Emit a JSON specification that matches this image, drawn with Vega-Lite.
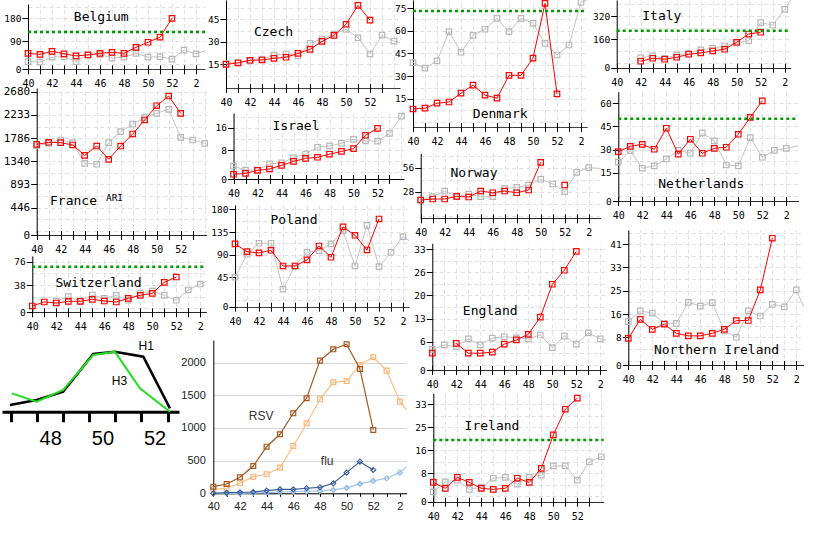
{
  "$schema": "https://vega.github.io/schema/vega-lite/v6.json",
  "width": 840,
  "height": 560,
  "autosize": "none",
  "padding": 0,
  "background": "white",
  "resolve": {"scale": {"x": "independent", "y": "independent"}, "axis": {"x": "independent", "y": "independent"}},
  "layer": [
    {
      "data": {"values": [
        {"w":40,"v":41,"s":"c"},{"w":41,"v":37,"s":"c"},{"w":42,"v":49,"s":"c"},{"w":43,"v":39,"s":"c"},{"w":44,"v":31,"s":"c"},{"w":45,"v":35,"s":"c"},{"w":46,"v":41,"s":"c"},{"w":47,"v":45,"s":"c"},{"w":48,"v":41,"s":"c"},{"w":49,"v":65,"s":"c"},{"w":50,"v":85,"s":"c"},{"w":51,"v":105,"s":"c"},{"w":52,"v":180,"s":"c"},
        {"w":40,"v":8,"s":"p"},{"w":41,"v":6,"s":"p"},{"w":42,"v":26,"s":"p"},{"w":43,"v":28,"s":"p"},{"w":44,"v":8,"s":"p"},{"w":45,"v":35,"s":"p"},{"w":46,"v":37,"s":"p"},{"w":47,"v":22,"s":"p"},{"w":48,"v":26,"s":"p"},{"w":49,"v":41,"s":"p"},{"w":50,"v":26,"s":"p"},{"w":51,"v":28,"s":"p"},{"w":52,"v":18,"s":"p"},{"w":53,"v":54,"s":"p"},{"w":54,"v":39,"s":"p"},{"w":55,"v":52,"s":"p"},
        {"w":40,"v":126,"s":"t"},{"w":55,"v":126,"s":"t"}
      ]},
      "resolve": {"axis": {"x": "independent"}},
      "layer": [
        {"transform": [{"filter": "datum.s == 'p'"}],
         "mark": {"type": "line", "color": "#c4c4c4", "strokeWidth": 1},
         "encoding": {
           "x": {"field": "w", "type": "quantitative", "scale": {"domain": [40, 54.75], "range": [28, 205], "nice": false, "zero": false, "clamp": true},
                 "axis": {"orient": "bottom", "offset": -495.2, "title": null, "values": [40,41,42,43,44,45,46,47,48,49,50,51,52,53,54], "labelExpr": "datum.value % 2 == 0 ? '' + (datum.value > 52 ? datum.value - 52 : datum.value) : ''", "domain": false, "grid": false, "tickSize": 9, "labelPadding": 5, "labelFontSize": 10, "labelOverlap": false, "labelFlush": false}},
           "y": {"field": "v", "type": "quantitative", "scale": {"domain": [-22.2, 236.7], "range": [69.3, 4], "nice": false, "zero": false, "clamp": true},
                 "axis": {"orient": "left", "offset": -28, "title": null, "grid": true, "labelOverlap": false, "values": [-22.2, 0, 45, 90, 135, 180, 225],
                          "labelExpr": "datum.value == -22.2 ? '0' : indexof([90, 180], datum.value) >= 0 ? datum.label : ''",
                          "tickOpacity": {"condition": {"test": "indexof([-22.2, 90, 180], datum.value) >= 0", "value": 1}, "value": 0},
                          "gridColor": {"condition": {"test": "datum.value == -22.2", "value": "#000000"}, "value": "#e0e0e0"},
                          "gridDash": {"condition": {"test": "datum.value == -22.2", "value": [1, 0]}, "value": [4, 3]}}}}},
        {"transform": [{"filter": "datum.s == 'p' && datum.w < 55"}],
         "mark": {"type": "point", "shape": "square", "filled": false, "color": "#b8b8b8", "size": 30, "strokeWidth": 1.2, "opacity": 1},
         "encoding": {
           "x": {"field": "w", "type": "quantitative",
                 "axis": {"orient": "top", "offset": 0, "title": "Belgium", "titleX": 100.7, "titleY": 16.7, "values": [40,41,42,43,44,45,46,47,48,49,50,51,52,53,54], "grid": true, "ticks": false, "labels": false, "domain": false}},
           "y": {"field": "v", "type": "quantitative"}}},
        {"transform": [{"filter": "datum.s == 'c'"}],
         "mark": {"type": "line", "color": "#ff0000", "strokeWidth": 1},
         "encoding": {"x": {"field": "w", "type": "quantitative", "axis": null}, "y": {"field": "v", "type": "quantitative"}}},
        {"transform": [{"filter": "datum.s == 'c'"}],
         "mark": {"type": "point", "shape": "square", "filled": false, "color": "#ff0000", "size": 30, "strokeWidth": 1.2, "opacity": 1},
         "encoding": {"x": {"field": "w", "type": "quantitative", "axis": null}, "y": {"field": "v", "type": "quantitative"}}},
        {"transform": [{"filter": "datum.s == 't'"}],
         "mark": {"type": "line", "color": "#009900", "strokeWidth": 2.5, "strokeDash": [3, 3]},
         "encoding": {"x": {"field": "w", "type": "quantitative", "axis": null}, "y": {"field": "v", "type": "quantitative"}}}
      ]
    },
    {
      "data": {"values": [
        {"w":40,"v":1668,"s":"c"},{"w":41,"v":1707,"s":"c"},{"w":42,"v":1699,"s":"c"},{"w":43,"v":1655,"s":"c"},{"w":44,"v":1456,"s":"c"},{"w":45,"v":1635,"s":"c"},{"w":46,"v":1379,"s":"c"},{"w":47,"v":1635,"s":"c"},{"w":48,"v":1867,"s":"c"},{"w":49,"v":2137,"s":"c"},{"w":50,"v":2412,"s":"c"},{"w":51,"v":2599,"s":"c"},{"w":52,"v":2266,"s":"c"},
        {"w":40,"v":1641,"s":"p"},{"w":41,"v":1687,"s":"p"},{"w":42,"v":1751,"s":"p"},{"w":43,"v":1699,"s":"p"},{"w":44,"v":1302,"s":"p"},{"w":45,"v":1283,"s":"p"},{"w":46,"v":1699,"s":"p"},{"w":47,"v":1911,"s":"p"},{"w":48,"v":2059,"s":"p"},{"w":49,"v":2181,"s":"p"},{"w":50,"v":2266,"s":"p"},{"w":51,"v":2343,"s":"p"},{"w":52,"v":1803,"s":"p"},{"w":53,"v":1751,"s":"p"},{"w":54,"v":1687,"s":"p"},{"w":55,"v":1670,"s":"p"}
      ]},
      "resolve": {"axis": {"x": "independent"}},
      "layer": [
        {"transform": [{"filter": "datum.s == 'p'"}],
         "mark": {"type": "line", "color": "#c4c4c4", "strokeWidth": 1},
         "encoding": {
           "x": {"field": "w", "type": "quantitative", "scale": {"domain": [40, 54.17], "range": [36.7, 206.7], "nice": false, "zero": false, "clamp": true},
                 "axis": {"orient": "bottom", "offset": -329.5, "title": null, "values": [40,41,42,43,44,45,46,47,48,49,50,51,52,53], "labelExpr": "datum.value % 2 == 0 ? '' + (datum.value > 52 ? datum.value - 52 : datum.value) : ''", "domain": false, "grid": false, "tickSize": 9, "labelPadding": 5, "labelFontSize": 10, "labelOverlap": false, "labelFlush": false}},
           "y": {"field": "v", "type": "quantitative", "scale": {"domain": [-80.6, 2753.6], "range": [235, 88], "nice": false, "zero": false, "clamp": true},
                 "axis": {"orient": "left", "offset": -36.7, "title": "ARI", "titleX": 77.3, "titleY": 197, "titleAngle": 0, "titleFontSize": 9.5,
                          "grid": true, "labelOverlap": false, "labelFontSize": 11,
                          "values": [-80.6, 0, 223.33, 446.67, 670, 893.33, 1116.67, 1340, 1563.33, 1786.67, 2010, 2233.33, 2456.67, 2680],
                          "labelExpr": "datum.value == -80.6 ? '0' : indexof([446.67, 893.33, 1340, 1786.67, 2233.33, 2680], datum.value) >= 0 ? '' + floor(datum.value) : ''",
                          "tickOpacity": {"condition": {"test": "indexof([-80.6, 446.67, 893.33, 1340, 1786.67, 2233.33, 2680], datum.value) >= 0", "value": 1}, "value": 0},
                          "gridColor": {"condition": {"test": "datum.value == -80.6", "value": "#000000"}, "value": "#e0e0e0"},
                          "gridDash": {"condition": {"test": "datum.value == -80.6", "value": [1, 0]}, "value": [4, 3]}}}}},
        {"transform": [{"filter": "datum.s == 'p' && datum.w < 55"}],
         "mark": {"type": "point", "shape": "square", "filled": false, "color": "#b8b8b8", "size": 30, "strokeWidth": 1.2, "opacity": 1},
         "encoding": {
           "x": {"field": "w", "type": "quantitative",
                 "axis": {"orient": "top", "offset": 0, "title": "France", "titleX": 73, "titleY": 200, "values": [40,41,42,43,44,45,46,47,48,49,50,51,52,53,54], "grid": true, "ticks": false, "labels": false, "domain": false}},
           "y": {"field": "v", "type": "quantitative"}}},
        {"transform": [{"filter": "datum.s == 'c'"}],
         "mark": {"type": "line", "color": "#ff0000", "strokeWidth": 1},
         "encoding": {"x": {"field": "w", "type": "quantitative", "axis": null}, "y": {"field": "v", "type": "quantitative"}}},
        {"transform": [{"filter": "datum.s == 'c'"}],
         "mark": {"type": "point", "shape": "square", "filled": false, "color": "#ff0000", "size": 30, "strokeWidth": 1.2, "opacity": 1},
         "encoding": {"x": {"field": "w", "type": "quantitative", "axis": null}, "y": {"field": "v", "type": "quantitative"}}}
      ]
    },
    {
      "data": {"values": [
        {"w":40,"v":3.8,"s":"c"},{"w":41,"v":10.3,"s":"c"},{"w":42,"v":8.7,"s":"c"},{"w":43,"v":11.4,"s":"c"},{"w":44,"v":11.4,"s":"c"},{"w":45,"v":14.7,"s":"c"},{"w":46,"v":11.9,"s":"c"},{"w":47,"v":10.3,"s":"c"},{"w":48,"v":16.3,"s":"c"},{"w":49,"v":21.2,"s":"c"},{"w":50,"v":24.5,"s":"c"},{"w":51,"v":42.4,"s":"c"},{"w":52,"v":51,"s":"c"},
        {"w":42,"v":11.9,"s":"p"},{"w":43,"v":19,"s":"p"},{"w":44,"v":11.9,"s":"p"},{"w":45,"v":21.7,"s":"p"},{"w":46,"v":16.3,"s":"p"},{"w":47,"v":21.2,"s":"p"},{"w":48,"v":13.1,"s":"p"},{"w":49,"v":24.5,"s":"p"},{"w":50,"v":28.2,"s":"p"},{"w":51,"v":21.2,"s":"p"},{"w":52,"v":13.1,"s":"p"},{"w":53,"v":29.9,"s":"p"},{"w":54,"v":39.6,"s":"p"},{"w":55,"v":44,"s":"p"},
        {"w":40,"v":67.9,"s":"t"},{"w":55,"v":67.9,"s":"t"}
      ]},
      "resolve": {"axis": {"x": "independent"}},
      "layer": [
        {"transform": [{"filter": "datum.s == 'p'"}],
         "mark": {"type": "line", "color": "#c4c4c4", "strokeWidth": 1},
         "encoding": {
           "x": {"field": "w", "type": "quantitative", "scale": {"domain": [40, 54.5], "range": [32.3, 206.3], "nice": false, "zero": false, "clamp": true},
                 "axis": {"orient": "bottom", "offset": -252.2, "title": null, "values": [40,41,42,43,44,45,46,47,48,49,50,51,52,53,54], "labelExpr": "datum.value % 2 == 0 ? '' + (datum.value > 52 ? datum.value - 52 : datum.value) : ''", "domain": false, "grid": false, "tickSize": 9, "labelPadding": 5, "labelFontSize": 10, "labelOverlap": false, "labelFlush": false}},
           "y": {"field": "v", "type": "quantitative", "scale": {"domain": [-6.5, 85.3], "range": [312.3, 256], "nice": false, "zero": false, "clamp": true},
                 "axis": {"orient": "left", "offset": -32.3, "title": null, "grid": true, "labelOverlap": false, "values": [-6.5, 0, 19, 38, 57, 76],
                          "labelExpr": "datum.value == -6.5 ? '0' : indexof([38, 76], datum.value) >= 0 ? datum.label : ''",
                          "tickOpacity": {"condition": {"test": "indexof([-6.5, 38, 76], datum.value) >= 0", "value": 1}, "value": 0},
                          "gridColor": {"condition": {"test": "datum.value == -6.5", "value": "#000000"}, "value": "#e0e0e0"},
                          "gridDash": {"condition": {"test": "datum.value == -6.5", "value": [1, 0]}, "value": [4, 3]}}}}},
        {"transform": [{"filter": "datum.s == 'p' && datum.w < 55"}],
         "mark": {"type": "point", "shape": "square", "filled": false, "color": "#b8b8b8", "size": 30, "strokeWidth": 1.2, "opacity": 1},
         "encoding": {
           "x": {"field": "w", "type": "quantitative",
                 "axis": {"orient": "top", "offset": 0, "title": "Switzerland", "titleX": 98, "titleY": 282.3, "values": [40,41,42,43,44,45,46,47,48,49,50,51,52,53,54], "grid": true, "ticks": false, "labels": false, "domain": false}},
           "y": {"field": "v", "type": "quantitative"}}},
        {"transform": [{"filter": "datum.s == 'c'"}],
         "mark": {"type": "line", "color": "#ff0000", "strokeWidth": 1},
         "encoding": {"x": {"field": "w", "type": "quantitative", "axis": null}, "y": {"field": "v", "type": "quantitative"}}},
        {"transform": [{"filter": "datum.s == 'c'"}],
         "mark": {"type": "point", "shape": "square", "filled": false, "color": "#ff0000", "size": 30, "strokeWidth": 1.2, "opacity": 1},
         "encoding": {"x": {"field": "w", "type": "quantitative", "axis": null}, "y": {"field": "v", "type": "quantitative"}}},
        {"transform": [{"filter": "datum.s == 't'"}],
         "mark": {"type": "line", "color": "#009900", "strokeWidth": 2.5, "strokeDash": [3, 3]},
         "encoding": {"x": {"field": "w", "type": "quantitative", "axis": null}, "y": {"field": "v", "type": "quantitative"}}}
      ]
    },
    {
      "data": {"values": [
        {"w":45.96,"v":6.7,"s":"H1"},{"w":46.98,"v":11.7,"s":"H1"},{"w":48,"v":20,"s":"H1"},{"w":49.15,"v":57.7,"s":"H1"},{"w":49.98,"v":60,"s":"H1"},{"w":51.07,"v":55,"s":"H1"},{"w":52.09,"v":3.3,"s":"H1"},
        {"w":46.03,"v":18.3,"s":"H3"},{"w":46.98,"v":10,"s":"H3"},{"w":48,"v":21.7,"s":"H3"},{"w":49.15,"v":56.7,"s":"H3"},{"w":49.98,"v":60,"s":"H3"},{"w":50.94,"v":23.3,"s":"H3"},{"w":52.09,"v":0,"s":"H3"}
      ]},
      "resolve": {"axis": {"x": "independent"}},
      "layer": [
        {"transform": [{"filter": "datum.s == 'H1'"}],
         "mark": {"type": "line", "color": "#000000", "strokeWidth": 2.5},
         "encoding": {
           "x": {"field": "w", "type": "quantitative", "scale": {"domain": [45.655, 52.437], "range": [2, 179], "nice": false, "zero": false},
                 "axis": {"orient": "bottom", "offset": -148.3, "title": null, "values": [46,47,48,49,50,51,52], "labelExpr": "indexof([48, 50, 52], datum.value) >= 0 ? datum.label : ''",
                          "grid": false, "domain": true, "domainWidth": 3, "tickWidth": 3, "tickSize": 10, "labelOverlap": false, "labelFlush": false,
                          "labelFont": "Liberation Sans", "labelFontSize": 20, "labelPadding": 7, "labelOffset": -13}},
           "y": {"field": "v", "type": "quantitative", "scale": {"domain": [0, 71.7], "range": [411.7, 340], "nice": false, "zero": false},
                 "axis": {"orient": "left", "offset": -2, "title": "H3", "titleX": 117, "titleY": 380.7, "titleAngle": 0, "titleFont": "Liberation Sans", "titleFontSize": 12,
                          "domain": false, "ticks": false, "labels": false, "grid": false}}}},
        {"transform": [{"filter": "datum.s == 'H3'"}],
         "mark": {"type": "line", "color": "#22dd22", "strokeWidth": 2},
         "encoding": {
           "x": {"field": "w", "type": "quantitative",
                 "axis": {"orient": "top", "offset": 0, "title": "H1", "titleX": 145.7, "titleY": 345, "titleFont": "Liberation Sans", "titleFontSize": 12, "grid": false, "ticks": false, "labels": false, "domain": false}},
           "y": {"field": "v", "type": "quantitative"}}}
      ]
    },
    {
      "data": {"values": [
        {"w":40,"v":15,"s":"c"},{"w":41,"v":15.9,"s":"c"},{"w":42,"v":17.7,"s":"c"},{"w":43,"v":17.9,"s":"c"},{"w":44,"v":19,"s":"c"},{"w":45,"v":19.7,"s":"c"},{"w":46,"v":22.3,"s":"c"},{"w":47,"v":25,"s":"c"},{"w":48,"v":30.3,"s":"c"},{"w":49,"v":34.3,"s":"c"},{"w":50,"v":41.7,"s":"c"},{"w":51,"v":54.3,"s":"c"},{"w":52,"v":44.5,"s":"c"},
        {"w":40,"v":15.5,"s":"p"},{"w":41,"v":16.3,"s":"p"},{"w":42,"v":17.3,"s":"p"},{"w":43,"v":18.5,"s":"p"},{"w":44,"v":21.2,"s":"p"},{"w":45,"v":21.9,"s":"p"},{"w":46,"v":20.7,"s":"p"},{"w":47,"v":29,"s":"p"},{"w":48,"v":31.9,"s":"p"},{"w":49,"v":35.2,"s":"p"},{"w":50,"v":38.3,"s":"p"},{"w":51,"v":32.7,"s":"p"},{"w":52,"v":21.9,"s":"p"},{"w":53,"v":34.5,"s":"p"},{"w":54,"v":30.5,"s":"p"},{"w":55,"v":29.5,"s":"p"}
      ]},
      "resolve": {"axis": {"x": "independent"}},
      "layer": [
        {"transform": [{"filter": "datum.s == 'p'"}],
         "mark": {"type": "line", "color": "#c4c4c4", "strokeWidth": 1},
         "encoding": {
           "x": {"field": "w", "type": "quantitative", "scale": {"domain": [40, 54.5], "range": [226, 400], "nice": false, "zero": false, "clamp": true},
                 "axis": {"orient": "bottom", "offset": -476.5, "title": null, "values": [40,41,42,43,44,45,46,47,48,49,50,51,52,53], "labelExpr": "datum.value % 2 == 0 ? '' + (datum.value > 52 ? datum.value - 52 : datum.value) : ''", "domain": false, "grid": false, "tickSize": 9, "labelPadding": 5, "labelFontSize": 10, "labelOverlap": false, "labelFlush": false}},
           "y": {"field": "v", "type": "quantitative", "scale": {"domain": [-0.8, 57.9], "range": [88, 0], "nice": false, "zero": false, "clamp": true},
                 "axis": {"orient": "left", "offset": -226, "title": null, "grid": true, "labelOverlap": false, "values": [-0.8, 7.5, 15, 22.5, 30, 37.5, 45, 52.5],
                          "labelExpr": "indexof([15, 30, 45], datum.value) >= 0 ? datum.label : ''",
                          "tickOpacity": {"condition": {"test": "indexof([15, 30, 45], datum.value) >= 0", "value": 1}, "value": 0},
                          "gridColor": {"condition": {"test": "datum.value == -0.8", "value": "#000000"}, "value": "#e0e0e0"},
                          "gridDash": {"condition": {"test": "datum.value == -0.8", "value": [1, 0]}, "value": [4, 3]}}}}},
        {"transform": [{"filter": "datum.s == 'p' && datum.w < 55"}],
         "mark": {"type": "point", "shape": "square", "filled": false, "color": "#b8b8b8", "size": 30, "strokeWidth": 1.2, "opacity": 1},
         "encoding": {
           "x": {"field": "w", "type": "quantitative",
                 "axis": {"orient": "top", "offset": 0, "title": "Czech", "titleX": 273, "titleY": 31.7, "values": [40,41,42,43,44,45,46,47,48,49,50,51,52,53,54], "grid": true, "ticks": false, "labels": false, "domain": false}},
           "y": {"field": "v", "type": "quantitative"}}},
        {"transform": [{"filter": "datum.s == 'c'"}],
         "mark": {"type": "line", "color": "#ff0000", "strokeWidth": 1},
         "encoding": {"x": {"field": "w", "type": "quantitative", "axis": null}, "y": {"field": "v", "type": "quantitative"}}},
        {"transform": [{"filter": "datum.s == 'c'"}],
         "mark": {"type": "point", "shape": "square", "filled": false, "color": "#ff0000", "size": 30, "strokeWidth": 1.2, "opacity": 1},
         "encoding": {"x": {"field": "w", "type": "quantitative", "axis": null}, "y": {"field": "v", "type": "quantitative"}}}
      ]
    },
    {
      "data": {"values": [
        {"w":40,"v":-0.7,"s":"c"},{"w":41,"v":-0.4,"s":"c"},{"w":42,"v":0.7,"s":"c"},{"w":43,"v":1.2,"s":"c"},{"w":44,"v":2.5,"s":"c"},{"w":45,"v":3.9,"s":"c"},{"w":46,"v":5,"s":"c"},{"w":47,"v":5.4,"s":"c"},{"w":48,"v":6.5,"s":"c"},{"w":49,"v":7.5,"s":"c"},{"w":50,"v":8.5,"s":"c"},{"w":51,"v":13.3,"s":"c"},{"w":52,"v":15.8,"s":"c"},
        {"w":40,"v":2.2,"s":"p"},{"w":41,"v":0.8,"s":"p"},{"w":42,"v":0.8,"s":"p"},{"w":43,"v":3,"s":"p"},{"w":44,"v":3.4,"s":"p"},{"w":45,"v":5.2,"s":"p"},{"w":46,"v":6.6,"s":"p"},{"w":47,"v":9,"s":"p"},{"w":48,"v":9.5,"s":"p"},{"w":49,"v":10.4,"s":"p"},{"w":50,"v":11.8,"s":"p"},{"w":51,"v":11.3,"s":"p"},{"w":52,"v":11.2,"s":"p"},{"w":53,"v":14,"s":"p"},{"w":54,"v":20.2,"s":"p"},{"w":55,"v":21.5,"s":"p"}
      ]},
      "resolve": {"axis": {"x": "independent"}},
      "layer": [
        {"transform": [{"filter": "datum.s == 'p'"}],
         "mark": {"type": "line", "color": "#c4c4c4", "strokeWidth": 1},
         "encoding": {
           "x": {"field": "w", "type": "quantitative", "scale": {"domain": [40, 54.2], "range": [233.5, 403.9], "nice": false, "zero": false, "clamp": true},
                 "axis": {"orient": "bottom", "offset": -385.5, "title": null, "values": [40,41,42,43,44,45,46,47,48,49,50,51,52,53], "labelExpr": "datum.value % 2 == 0 ? '' + (datum.value > 52 ? datum.value - 52 : datum.value) : ''", "domain": false, "grid": false, "tickSize": 9, "labelPadding": 5, "labelFontSize": 10, "labelOverlap": false, "labelFlush": false}},
           "y": {"field": "v", "type": "quantitative", "scale": {"domain": [-2.4, 21.3], "range": [179, 113], "nice": false, "zero": false, "clamp": true},
                 "axis": {"orient": "left", "offset": -233.5, "title": null, "grid": true, "labelOverlap": false, "values": [-2.4, 0, 4, 8, 12, 16, 20],
                          "labelExpr": "datum.value == -2.4 ? '0' : indexof([8, 16], datum.value) >= 0 ? datum.label : ''",
                          "tickOpacity": {"condition": {"test": "indexof([-2.4, 8, 16], datum.value) >= 0", "value": 1}, "value": 0},
                          "gridColor": {"condition": {"test": "datum.value == -2.4", "value": "#000000"}, "value": "#e0e0e0"},
                          "gridDash": {"condition": {"test": "datum.value == -2.4", "value": [1, 0]}, "value": [4, 3]}}}}},
        {"transform": [{"filter": "datum.s == 'p' && datum.w < 55"}],
         "mark": {"type": "point", "shape": "square", "filled": false, "color": "#b8b8b8", "size": 30, "strokeWidth": 1.2, "opacity": 1},
         "encoding": {
           "x": {"field": "w", "type": "quantitative",
                 "axis": {"orient": "top", "offset": 0, "title": "Israel", "titleX": 295.5, "titleY": 125, "values": [40,41,42,43,44,45,46,47,48,49,50,51,52,53,54], "grid": true, "ticks": false, "labels": false, "domain": false}},
           "y": {"field": "v", "type": "quantitative"}}},
        {"transform": [{"filter": "datum.s == 'c'"}],
         "mark": {"type": "line", "color": "#ff0000", "strokeWidth": 1},
         "encoding": {"x": {"field": "w", "type": "quantitative", "axis": null}, "y": {"field": "v", "type": "quantitative"}}},
        {"transform": [{"filter": "datum.s == 'c'"}],
         "mark": {"type": "point", "shape": "square", "filled": false, "color": "#ff0000", "size": 30, "strokeWidth": 1.2, "opacity": 1},
         "encoding": {"x": {"field": "w", "type": "quantitative", "axis": null}, "y": {"field": "v", "type": "quantitative"}}}
      ]
    },
    {
      "data": {"values": [
        {"w":40,"v":111.3,"s":"c"},{"w":41,"v":96,"s":"c"},{"w":42,"v":93.5,"s":"c"},{"w":43,"v":98.8,"s":"c"},{"w":44,"v":67.7,"s":"c"},{"w":45,"v":67.7,"s":"c"},{"w":46,"v":79.6,"s":"c"},{"w":47,"v":107.3,"s":"c"},{"w":48,"v":85,"s":"c"},{"w":49,"v":145,"s":"c"},{"w":50,"v":128.5,"s":"c"},{"w":51,"v":99.4,"s":"c"},{"w":52,"v":160.8,"s":"c"},
        {"w":40,"v":45.4,"s":"p"},{"w":41,"v":90.9,"s":"p"},{"w":42,"v":112.7,"s":"p"},{"w":43,"v":112.7,"s":"p"},{"w":44,"v":21.6,"s":"p"},{"w":45,"v":67.7,"s":"p"},{"w":46,"v":94.9,"s":"p"},{"w":47,"v":98,"s":"p"},{"w":48,"v":111.3,"s":"p"},{"w":49,"v":137.6,"s":"p"},{"w":50,"v":67.7,"s":"p"},{"w":51,"v":148.3,"s":"p"},{"w":52,"v":66.4,"s":"p"},{"w":53,"v":94.9,"s":"p"},{"w":54,"v":125.8,"s":"p"},{"w":55,"v":118,"s":"p"}
      ]},
      "resolve": {"axis": {"x": "independent"}},
      "layer": [
        {"transform": [{"filter": "datum.s == 'p'"}],
         "mark": {"type": "line", "color": "#c4c4c4", "strokeWidth": 1},
         "encoding": {
           "x": {"field": "w", "type": "quantitative", "scale": {"domain": [40, 54.5], "range": [235, 409], "nice": false, "zero": false, "clamp": true},
                 "axis": {"orient": "bottom", "offset": -257.8, "title": null, "values": [40,41,42,43,44,45,46,47,48,49,50,51,52,53,54], "labelExpr": "datum.value % 2 == 0 ? '' + (datum.value > 52 ? datum.value - 52 : datum.value) : ''", "domain": false, "grid": false, "tickSize": 9, "labelPadding": 5, "labelFontSize": 10, "labelOverlap": false, "labelFlush": false}},
           "y": {"field": "v", "type": "quantitative", "scale": {"domain": [-13, 188.5], "range": [306.7, 205], "nice": false, "zero": false, "clamp": true},
                 "axis": {"orient": "left", "offset": -235, "title": null, "grid": true, "labelOverlap": false, "values": [-13, 0, 22.5, 45, 67.5, 90, 112.5, 135, 157.5, 180],
                          "labelExpr": "datum.value == -13 ? '0' : indexof([45, 90, 135, 180], datum.value) >= 0 ? datum.label : ''",
                          "tickOpacity": {"condition": {"test": "indexof([-13, 45, 90, 135, 180], datum.value) >= 0", "value": 1}, "value": 0},
                          "gridColor": {"condition": {"test": "datum.value == -13", "value": "#000000"}, "value": "#e0e0e0"},
                          "gridDash": {"condition": {"test": "datum.value == -13", "value": [1, 0]}, "value": [4, 3]}}}}},
        {"transform": [{"filter": "datum.s == 'p' && datum.w < 55"}],
         "mark": {"type": "point", "shape": "square", "filled": false, "color": "#b8b8b8", "size": 30, "strokeWidth": 1.2, "opacity": 1},
         "encoding": {
           "x": {"field": "w", "type": "quantitative",
                 "axis": {"orient": "top", "offset": 0, "title": "Poland", "titleX": 293.5, "titleY": 219, "values": [40,41,42,43,44,45,46,47,48,49,50,51,52,53,54], "grid": true, "ticks": false, "labels": false, "domain": false}},
           "y": {"field": "v", "type": "quantitative"}}},
        {"transform": [{"filter": "datum.s == 'c'"}],
         "mark": {"type": "line", "color": "#ff0000", "strokeWidth": 1},
         "encoding": {"x": {"field": "w", "type": "quantitative", "axis": null}, "y": {"field": "v", "type": "quantitative"}}},
        {"transform": [{"filter": "datum.s == 'c'"}],
         "mark": {"type": "point", "shape": "square", "filled": false, "color": "#ff0000", "size": 30, "strokeWidth": 1.2, "opacity": 1},
         "encoding": {"x": {"field": "w", "type": "quantitative", "axis": null}, "y": {"field": "v", "type": "quantitative"}}}
      ]
    },
    {
      "data": {"values": [
        {"w":40,"v":101,"s":"rc"},{"w":41,"v":142,"s":"rc"},{"w":42,"v":245,"s":"rc"},{"w":43,"v":418,"s":"rc"},{"w":44,"v":713,"s":"rc"},{"w":45,"v":903,"s":"rc"},{"w":46,"v":1224,"s":"rc"},{"w":47,"v":1454,"s":"rc"},{"w":48,"v":2029,"s":"rc"},{"w":49,"v":2203,"s":"rc"},{"w":50,"v":2280,"s":"rc"},{"w":51,"v":1902,"s":"rc"},{"w":52,"v":969,"s":"rc"},
        {"w":40,"v":61,"s":"rp"},{"w":41,"v":77,"s":"rp"},{"w":42,"v":153,"s":"rp"},{"w":43,"v":254,"s":"rp"},{"w":44,"v":291,"s":"rp"},{"w":45,"v":392,"s":"rp"},{"w":46,"v":724,"s":"rp"},{"w":47,"v":1071,"s":"rp"},{"w":48,"v":1438,"s":"rp"},{"w":49,"v":1698,"s":"rp"},{"w":50,"v":1718,"s":"rp"},{"w":51,"v":1963,"s":"rp"},{"w":52,"v":2081,"s":"rp"},{"w":53,"v":1876,"s":"rp"},{"w":54,"v":1402,"s":"rp"},{"w":55,"v":1275,"s":"rp"},
        {"w":40,"v":0,"s":"fc"},{"w":41,"v":10,"s":"fc"},{"w":42,"v":15,"s":"fc"},{"w":43,"v":20,"s":"fc"},{"w":44,"v":41,"s":"fc"},{"w":45,"v":61,"s":"fc"},{"w":46,"v":61,"s":"fc"},{"w":47,"v":77,"s":"fc"},{"w":48,"v":92,"s":"fc"},{"w":49,"v":153,"s":"fc"},{"w":50,"v":316,"s":"fc"},{"w":51,"v":484,"s":"fc"},{"w":52,"v":357,"s":"fc"},
        {"w":40,"v":0,"s":"fp"},{"w":41,"v":0,"s":"fp"},{"w":42,"v":0,"s":"fp"},{"w":43,"v":5,"s":"fp"},{"w":44,"v":10,"s":"fp"},{"w":45,"v":20,"s":"fp"},{"w":46,"v":26,"s":"fp"},{"w":47,"v":31,"s":"fp"},{"w":48,"v":36,"s":"fp"},{"w":49,"v":51,"s":"fp"},{"w":50,"v":82,"s":"fp"},{"w":51,"v":143,"s":"fp"},{"w":52,"v":189,"s":"fp"},{"w":53,"v":230,"s":"fp"},{"w":54,"v":316,"s":"fp"},{"w":55,"v":408,"s":"fp"}
      ]},
      "resolve": {"axis": {"x": "independent"}},
      "layer": [
        {"transform": [{"filter": "datum.s == 'rp'"}],
         "mark": {"type": "line", "color": "#fbbf88", "strokeWidth": 1.2},
         "encoding": {
           "x": {"field": "w", "type": "quantitative", "scale": {"domain": [40, 54.5], "range": [213.3, 406.6], "nice": false, "zero": false, "clamp": true},
                 "axis": {"orient": "bottom", "offset": -66.7, "title": null, "values": [40,41,42,43,44,45,46,47,48,49,50,51,52,53,54], "labelExpr": "datum.value % 2 == 0 ? '' + (datum.value > 52 ? datum.value - 52 : datum.value) : ''",
                          "grid": false, "domain": true, "tickSize": 3, "labelPadding": 4, "labelOverlap": false, "labelFlush": false,
                          "labelFont": "Liberation Sans", "labelFontSize": 11, "labelColor": "#222222"}},
           "y": {"field": "v", "type": "quantitative", "scale": {"domain": [0, 2345], "range": [493.3, 340], "nice": false, "zero": false},
                 "axis": {"orient": "left", "offset": -213.3, "title": "flu", "titleX": 113.4, "titleY": 460.7, "titleAngle": 0, "titleFont": "Liberation Sans", "titleFontSize": 12, "titleColor": "#333333",
                          "values": [0, 500, 1000, 1500, 2000], "format": "d", "grid": true, "gridColor": "#cfcfcf", "gridDash": [1, 0], "labelOverlap": false,
                          "tickSize": 0, "labelPadding": 8, "labelFont": "Liberation Sans", "labelFontSize": 11, "labelColor": "#222222"}}}},
        {"transform": [{"filter": "datum.s == 'rp' && datum.w < 55"}],
         "mark": {"type": "point", "shape": "square", "filled": false, "color": "#fbb57a", "size": 24, "strokeWidth": 1.2, "opacity": 1},
         "encoding": {
           "x": {"field": "w", "type": "quantitative",
                 "axis": {"orient": "top", "offset": 0, "title": "RSV", "titleX": 260.7, "titleY": 415, "titleFont": "Liberation Sans", "titleFontSize": 12, "titleColor": "#333333", "grid": false, "ticks": false, "labels": false, "domain": false}},
           "y": {"field": "v", "type": "quantitative"}}},
        {"transform": [{"filter": "datum.s == 'rc'"}],
         "mark": {"type": "line", "color": "#a5581f", "strokeWidth": 1.2},
         "encoding": {"x": {"field": "w", "type": "quantitative", "axis": null}, "y": {"field": "v", "type": "quantitative"}}},
        {"transform": [{"filter": "datum.s == 'rc'"}],
         "mark": {"type": "point", "shape": "square", "filled": false, "color": "#a5581f", "size": 24, "strokeWidth": 1.2, "opacity": 1},
         "encoding": {"x": {"field": "w", "type": "quantitative", "axis": null}, "y": {"field": "v", "type": "quantitative"}}},
        {"transform": [{"filter": "datum.s == 'fp'"}],
         "mark": {"type": "line", "color": "#9fc5ea", "strokeWidth": 1.2},
         "encoding": {"x": {"field": "w", "type": "quantitative", "axis": null}, "y": {"field": "v", "type": "quantitative"}}},
        {"transform": [{"filter": "datum.s == 'fp' && datum.w < 55"}],
         "mark": {"type": "point", "shape": "diamond", "filled": false, "color": "#8fb8e3", "size": 26, "strokeWidth": 1.1, "opacity": 1},
         "encoding": {"x": {"field": "w", "type": "quantitative", "axis": null}, "y": {"field": "v", "type": "quantitative"}}},
        {"transform": [{"filter": "datum.s == 'fc'"}],
         "mark": {"type": "line", "color": "#3b5e99", "strokeWidth": 1.2},
         "encoding": {"x": {"field": "w", "type": "quantitative", "axis": null}, "y": {"field": "v", "type": "quantitative"}}},
        {"transform": [{"filter": "datum.s == 'fc'"}],
         "mark": {"type": "point", "shape": "diamond", "filled": false, "color": "#3b5e99", "size": 26, "strokeWidth": 1.1, "opacity": 1},
         "encoding": {"x": {"field": "w", "type": "quantitative", "axis": null}, "y": {"field": "v", "type": "quantitative"}}}
      ]
    },
    {
      "data": {"values": [
        {"w":40,"v":8.4,"s":"c"},{"w":41,"v":8.9,"s":"c"},{"w":42,"v":12.2,"s":"c"},{"w":43,"v":13,"s":"c"},{"w":44,"v":18.8,"s":"c"},{"w":45,"v":24.1,"s":"c"},{"w":46,"v":17.5,"s":"c"},{"w":47,"v":15.5,"s":"c"},{"w":48,"v":30.6,"s":"c"},{"w":49,"v":30.6,"s":"c"},{"w":50,"v":41.9,"s":"c"},{"w":51,"v":78.1,"s":"c"},{"w":52,"v":18.3,"s":"c"},
        {"w":40,"v":39,"s":"p"},{"w":41,"v":35.3,"s":"p"},{"w":42,"v":40.1,"s":"p"},{"w":43,"v":59.4,"s":"p"},{"w":44,"v":45.8,"s":"p"},{"w":45,"v":57,"s":"p"},{"w":46,"v":61,"s":"p"},{"w":47,"v":68.2,"s":"p"},{"w":48,"v":59.4,"s":"p"},{"w":49,"v":68.2,"s":"p"},{"w":50,"v":64.9,"s":"p"},{"w":51,"v":51.7,"s":"p"},{"w":52,"v":44,"s":"p"},{"w":53,"v":50.6,"s":"p"},{"w":54,"v":78.8,"s":"p"},{"w":55,"v":82,"s":"p"},
        {"w":40,"v":73,"s":"t"},{"w":55,"v":73,"s":"t"}
      ]},
      "resolve": {"axis": {"x": "independent"}},
      "layer": [
        {"transform": [{"filter": "datum.s == 'p'"}],
         "mark": {"type": "line", "color": "#c4c4c4", "strokeWidth": 1},
         "encoding": {
           "x": {"field": "w", "type": "quantitative", "scale": {"domain": [40, 54.5], "range": [413, 587], "nice": false, "zero": false, "clamp": true},
                 "axis": {"orient": "bottom", "offset": -437.5, "title": null, "values": [40,41,42,43,44,45,46,47,48,49,50,51,52,53,54], "labelExpr": "datum.value % 2 == 0 ? '' + (datum.value > 52 ? datum.value - 52 : datum.value) : ''", "domain": false, "grid": false, "tickSize": 9, "labelPadding": 5, "labelFontSize": 10, "labelOverlap": false, "labelFlush": false}},
           "y": {"field": "v", "type": "quantitative", "scale": {"domain": [-3.5, 80.3], "range": [127, 0], "nice": false, "zero": false, "clamp": true},
                 "axis": {"orient": "left", "offset": -413, "title": null, "grid": true, "labelOverlap": false, "values": [-3.5, 0, 7.5, 15, 22.5, 30, 37.5, 45, 52.5, 60, 67.5, 75],
                          "labelExpr": "indexof([15, 30, 45, 60, 75], datum.value) >= 0 ? datum.label : ''",
                          "tickOpacity": {"condition": {"test": "indexof([15, 30, 45, 60, 75], datum.value) >= 0", "value": 1}, "value": 0},
                          "gridColor": {"condition": {"test": "datum.value == -3.5", "value": "#000000"}, "value": "#e0e0e0"},
                          "gridDash": {"condition": {"test": "datum.value == -3.5", "value": [1, 0]}, "value": [4, 3]}}}}},
        {"transform": [{"filter": "datum.s == 'p' && datum.w < 55"}],
         "mark": {"type": "point", "shape": "square", "filled": false, "color": "#b8b8b8", "size": 30, "strokeWidth": 1.2, "opacity": 1},
         "encoding": {
           "x": {"field": "w", "type": "quantitative",
                 "axis": {"orient": "top", "offset": 0, "title": "Denmark", "titleX": 499.7, "titleY": 113.3, "values": [40,41,42,43,44,45,46,47,48,49,50,51,52,53,54], "grid": true, "ticks": false, "labels": false, "domain": false}},
           "y": {"field": "v", "type": "quantitative"}}},
        {"transform": [{"filter": "datum.s == 'c'"}],
         "mark": {"type": "line", "color": "#ff0000", "strokeWidth": 1},
         "encoding": {"x": {"field": "w", "type": "quantitative", "axis": null}, "y": {"field": "v", "type": "quantitative"}}},
        {"transform": [{"filter": "datum.s == 'c'"}],
         "mark": {"type": "point", "shape": "square", "filled": false, "color": "#ff0000", "size": 30, "strokeWidth": 1.2, "opacity": 1},
         "encoding": {"x": {"field": "w", "type": "quantitative", "axis": null}, "y": {"field": "v", "type": "quantitative"}}},
        {"transform": [{"filter": "datum.s == 't'"}],
         "mark": {"type": "line", "color": "#009900", "strokeWidth": 2.5, "strokeDash": [3, 3]},
         "encoding": {"x": {"field": "w", "type": "quantitative", "axis": null}, "y": {"field": "v", "type": "quantitative"}}}
      ]
    },
    {
      "data": {"values": [
        {"w":40,"v":18.3,"s":"c","g":1},{"w":41,"v":19.5,"s":"c","g":1},{"w":42,"v":19.5,"s":"c","g":1},{"w":43,"v":22.6,"s":"c","g":1},{"w":44,"v":21.8,"s":"c","g":1},{"w":45,"v":28.8,"s":"c","g":1},{"w":46,"v":26.8,"s":"c","g":1},{"w":47,"v":28.8,"s":"c","g":1},{"w":48,"v":26.8,"s":"c","g":1},{"w":49,"v":30,"s":"c","g":1},{"w":50,"v":62.3,"s":"c","g":1},{"w":52,"v":35.8,"s":"c","g":2},
        {"w":40,"v":18.3,"s":"p"},{"w":41,"v":22.2,"s":"p"},{"w":42,"v":28.8,"s":"p"},{"w":43,"v":22.2,"s":"p"},{"w":44,"v":25.3,"s":"p"},{"w":45,"v":22.2,"s":"p"},{"w":46,"v":22.2,"s":"p"},{"w":47,"v":32,"s":"p"},{"w":48,"v":33.1,"s":"p"},{"w":49,"v":35.8,"s":"p"},{"w":50,"v":42.5,"s":"p"},{"w":51,"v":37,"s":"p"},{"w":52,"v":28,"s":"p"},{"w":53,"v":50.6,"s":"p"},{"w":54,"v":56,"s":"p"},{"w":55,"v":55.2,"s":"p"}
      ]},
      "resolve": {"axis": {"x": "independent"}},
      "layer": [
        {"transform": [{"filter": "datum.s == 'p'"}],
         "mark": {"type": "line", "color": "#c4c4c4", "strokeWidth": 1},
         "encoding": {
           "x": {"field": "w", "type": "quantitative", "scale": {"domain": [40, 55], "range": [420.7, 600.7], "nice": false, "zero": false, "clamp": true},
                 "axis": {"orient": "bottom", "offset": -346.2, "title": null, "values": [40,41,42,43,44,45,46,47,48,49,50,51,52,53,54], "labelExpr": "datum.value % 2 == 0 ? '' + (datum.value > 52 ? datum.value - 52 : datum.value) : ''", "domain": false, "grid": false, "tickSize": 9, "labelPadding": 5, "labelFontSize": 10, "labelOverlap": false, "labelFlush": false}},
           "y": {"field": "v", "type": "quantitative", "scale": {"domain": [-3, 72.8], "range": [218.3, 153.3], "nice": false, "zero": false, "clamp": true},
                 "axis": {"orient": "left", "offset": -420.7, "title": null, "grid": true, "labelOverlap": false, "values": [-3, 0, 14, 28, 42, 56, 70],
                          "labelExpr": "indexof([28, 56], datum.value) >= 0 ? datum.label : ''",
                          "tickOpacity": {"condition": {"test": "indexof([28, 56], datum.value) >= 0", "value": 1}, "value": 0},
                          "gridColor": {"condition": {"test": "datum.value == -3", "value": "#000000"}, "value": "#e0e0e0"},
                          "gridDash": {"condition": {"test": "datum.value == -3", "value": [1, 0]}, "value": [4, 3]}}}}},
        {"transform": [{"filter": "datum.s == 'p' && datum.w < 55"}],
         "mark": {"type": "point", "shape": "square", "filled": false, "color": "#b8b8b8", "size": 30, "strokeWidth": 1.2, "opacity": 1},
         "encoding": {
           "x": {"field": "w", "type": "quantitative",
                 "axis": {"orient": "top", "offset": 0, "title": "Norway", "titleX": 473.5, "titleY": 172.7, "values": [40,41,42,43,44,45,46,47,48,49,50,51,52,53,54], "grid": true, "ticks": false, "labels": false, "domain": false}},
           "y": {"field": "v", "type": "quantitative"}}},
        {"transform": [{"filter": "datum.s == 'c'"}],
         "mark": {"type": "line", "color": "#ff0000", "strokeWidth": 1},
         "encoding": {"x": {"field": "w", "type": "quantitative", "axis": null}, "y": {"field": "v", "type": "quantitative"}, "detail": {"field": "g", "type": "nominal"}}},
        {"transform": [{"filter": "datum.s == 'c'"}],
         "mark": {"type": "point", "shape": "square", "filled": false, "color": "#ff0000", "size": 30, "strokeWidth": 1.2, "opacity": 1},
         "encoding": {"x": {"field": "w", "type": "quantitative", "axis": null}, "y": {"field": "v", "type": "quantitative"}}}
      ]
    },
    {
      "data": {"values": [
        {"w":40,"v":3.3,"s":"c","g":1},{"w":42,"v":6.1,"s":"c","g":2},{"w":43,"v":3.3,"s":"c","g":2},{"w":44,"v":3.3,"s":"c","g":2},{"w":45,"v":3.6,"s":"c","g":2},{"w":46,"v":5.9,"s":"c","g":2},{"w":47,"v":7.1,"s":"c","g":2},{"w":48,"v":8.7,"s":"c","g":2},{"w":49,"v":13.6,"s":"c","g":2},{"w":50,"v":23,"s":"c","g":2},{"w":51,"v":27,"s":"c","g":2},{"w":52,"v":32.4,"s":"c","g":2},
        {"w":40,"v":4.4,"s":"p"},{"w":41,"v":5.7,"s":"p"},{"w":42,"v":5.2,"s":"p"},{"w":43,"v":7.4,"s":"p"},{"w":44,"v":5.7,"s":"p"},{"w":45,"v":7.6,"s":"p"},{"w":46,"v":8,"s":"p"},{"w":47,"v":7.7,"s":"p"},{"w":48,"v":7.4,"s":"p"},{"w":49,"v":8.5,"s":"p"},{"w":50,"v":4.9,"s":"p"},{"w":51,"v":8.2,"s":"p"},{"w":52,"v":5.9,"s":"p"},{"w":53,"v":9.1,"s":"p"},{"w":54,"v":7.4,"s":"p"},{"w":55,"v":7,"s":"p"}
      ]},
      "resolve": {"axis": {"x": "independent"}},
      "layer": [
        {"transform": [{"filter": "datum.s == 'p'"}],
         "mark": {"type": "line", "color": "#c4c4c4", "strokeWidth": 1},
         "encoding": {
           "x": {"field": "w", "type": "quantitative", "scale": {"domain": [40, 54.5], "range": [432.3, 606.3], "nice": false, "zero": false, "clamp": true},
                 "axis": {"orient": "bottom", "offset": -194.5, "title": null, "values": [40,41,42,43,44,45,46,47,48,49,50,51,52,53,54], "labelExpr": "datum.value % 2 == 0 ? '' + (datum.value > 52 ? datum.value - 52 : datum.value) : ''", "domain": false, "grid": false, "tickSize": 9, "labelPadding": 5, "labelFontSize": 10, "labelOverlap": false, "labelFlush": false}},
           "y": {"field": "v", "type": "quantitative", "scale": {"domain": [-1.5, 34.7], "range": [370, 243.3], "nice": false, "zero": false, "clamp": true},
                 "axis": {"orient": "left", "offset": -432.3, "title": null, "grid": true, "labelOverlap": false, "values": [-1.5, 0, 3.3, 6.6, 9.9, 13.2, 16.5, 19.8, 23.1, 26.4, 29.7, 33],
                          "labelExpr": "datum.value == -1.5 ? '0' : datum.value == 6.6 ? '6' : datum.value == 13.2 ? '13' : datum.value == 19.8 ? '20' : datum.value == 26.4 ? '26' : datum.value == 33 ? '33' : ''",
                          "tickOpacity": {"condition": {"test": "indexof([-1.5, 6.6, 13.2, 19.8, 26.4, 33], datum.value) >= 0", "value": 1}, "value": 0},
                          "gridColor": {"condition": {"test": "datum.value == -1.5", "value": "#000000"}, "value": "#e0e0e0"},
                          "gridDash": {"condition": {"test": "datum.value == -1.5", "value": [1, 0]}, "value": [4, 3]}}}}},
        {"transform": [{"filter": "datum.s == 'p' && datum.w < 55"}],
         "mark": {"type": "point", "shape": "square", "filled": false, "color": "#b8b8b8", "size": 30, "strokeWidth": 1.2, "opacity": 1},
         "encoding": {
           "x": {"field": "w", "type": "quantitative",
                 "axis": {"orient": "top", "offset": 0, "title": "England", "titleX": 489.7, "titleY": 310, "values": [40,41,42,43,44,45,46,47,48,49,50,51,52,53,54], "grid": true, "ticks": false, "labels": false, "domain": false}},
           "y": {"field": "v", "type": "quantitative"}}},
        {"transform": [{"filter": "datum.s == 'c'"}],
         "mark": {"type": "line", "color": "#ff0000", "strokeWidth": 1},
         "encoding": {"x": {"field": "w", "type": "quantitative", "axis": null}, "y": {"field": "v", "type": "quantitative"}, "detail": {"field": "g", "type": "nominal"}}},
        {"transform": [{"filter": "datum.s == 'c'"}],
         "mark": {"type": "point", "shape": "square", "filled": false, "color": "#ff0000", "size": 30, "strokeWidth": 1.2, "opacity": 1},
         "encoding": {"x": {"field": "w", "type": "quantitative", "axis": null}, "y": {"field": "v", "type": "quantitative"}}}
      ]
    },
    {
      "data": {"values": [
        {"w":40,"v":5,"s":"c"},{"w":41,"v":2.9,"s":"c"},{"w":42,"v":6.8,"s":"c"},{"w":43,"v":5,"s":"c"},{"w":44,"v":2.9,"s":"c"},{"w":45,"v":2.5,"s":"c"},{"w":46,"v":2.9,"s":"c"},{"w":47,"v":6.5,"s":"c"},{"w":48,"v":5,"s":"c"},{"w":49,"v":10,"s":"c"},{"w":50,"v":22,"s":"c"},{"w":51,"v":31.2,"s":"c"},{"w":52,"v":35.2,"s":"c"},
        {"w":40,"v":1.6,"s":"p"},{"w":41,"v":5.2,"s":"p"},{"w":42,"v":5.8,"s":"p"},{"w":43,"v":2.5,"s":"p"},{"w":44,"v":3.2,"s":"p"},{"w":45,"v":6.5,"s":"p"},{"w":46,"v":6.8,"s":"p"},{"w":47,"v":4.4,"s":"p"},{"w":48,"v":6.8,"s":"p"},{"w":49,"v":7.6,"s":"p"},{"w":50,"v":10.9,"s":"p"},{"w":51,"v":10.9,"s":"p"},{"w":52,"v":5.8,"s":"p"},{"w":53,"v":12.4,"s":"p"},{"w":54,"v":14.2,"s":"p"},{"w":55,"v":14.6,"s":"p"},
        {"w":40,"v":20.2,"s":"t"},{"w":55,"v":20.2,"s":"t"}
      ]},
      "resolve": {"axis": {"x": "independent"}},
      "layer": [
        {"transform": [{"filter": "datum.s == 'p'"}],
         "mark": {"type": "line", "color": "#c4c4c4", "strokeWidth": 1},
         "encoding": {
           "x": {"field": "w", "type": "quantitative", "scale": {"domain": [40, 54.2], "range": [433.3, 603.7], "nice": false, "zero": false, "clamp": true},
                 "axis": {"orient": "bottom", "offset": -62.8, "title": null, "values": [40,41,42,43,44,45,46,47,48,49,50,51,52,53], "labelExpr": "datum.value % 2 == 0 ? '' + (datum.value > 52 ? datum.value - 52 : datum.value) : ''", "domain": false, "grid": false, "tickSize": 9, "labelPadding": 5, "labelFontSize": 10, "labelOverlap": false, "labelFlush": false}},
           "y": {"field": "v", "type": "quantitative", "scale": {"domain": [-1.9, 36.9], "range": [501.7, 393.3], "nice": false, "zero": false, "clamp": true},
                 "axis": {"orient": "left", "offset": -433.3, "title": null, "grid": true, "labelOverlap": false, "values": [-1.9, 0, 4.125, 8.25, 12.375, 16.5, 20.625, 24.75, 28.875, 33],
                          "labelExpr": "datum.value == -1.9 ? '0' : datum.value == 8.25 ? '8' : datum.value == 16.5 ? '16' : datum.value == 24.75 ? '25' : datum.value == 33 ? '33' : ''",
                          "tickOpacity": {"condition": {"test": "indexof([-1.9, 8.25, 16.5, 24.75, 33], datum.value) >= 0", "value": 1}, "value": 0},
                          "gridColor": {"condition": {"test": "datum.value == -1.9", "value": "#000000"}, "value": "#e0e0e0"},
                          "gridDash": {"condition": {"test": "datum.value == -1.9", "value": [1, 0]}, "value": [4, 3]}}}}},
        {"transform": [{"filter": "datum.s == 'p' && datum.w < 55"}],
         "mark": {"type": "point", "shape": "square", "filled": false, "color": "#b8b8b8", "size": 30, "strokeWidth": 1.2, "opacity": 1},
         "encoding": {
           "x": {"field": "w", "type": "quantitative",
                 "axis": {"orient": "top", "offset": 0, "title": "Ireland", "titleX": 491.5, "titleY": 425, "values": [40,41,42,43,44,45,46,47,48,49,50,51,52,53,54], "grid": true, "ticks": false, "labels": false, "domain": false}},
           "y": {"field": "v", "type": "quantitative"}}},
        {"transform": [{"filter": "datum.s == 'c'"}],
         "mark": {"type": "line", "color": "#ff0000", "strokeWidth": 1},
         "encoding": {"x": {"field": "w", "type": "quantitative", "axis": null}, "y": {"field": "v", "type": "quantitative"}}},
        {"transform": [{"filter": "datum.s == 'c'"}],
         "mark": {"type": "point", "shape": "square", "filled": false, "color": "#ff0000", "size": 30, "strokeWidth": 1.2, "opacity": 1},
         "encoding": {"x": {"field": "w", "type": "quantitative", "axis": null}, "y": {"field": "v", "type": "quantitative"}}},
        {"transform": [{"filter": "datum.s == 't'"}],
         "mark": {"type": "line", "color": "#009900", "strokeWidth": 2.5, "strokeDash": [3, 3]},
         "encoding": {"x": {"field": "w", "type": "quantitative", "axis": null}, "y": {"field": "v", "type": "quantitative"}}}
      ]
    },
    {
      "data": {"values": [
        {"w":42,"v":9.2,"s":"c"},{"w":43,"v":29.8,"s":"c"},{"w":44,"v":23,"s":"c"},{"w":45,"v":36.7,"s":"c"},{"w":46,"v":57.3,"s":"c"},{"w":47,"v":66.2,"s":"c"},{"w":48,"v":79.9,"s":"c"},{"w":49,"v":91.6,"s":"c"},{"w":50,"v":139.6,"s":"c"},{"w":51,"v":196.5,"s":"c"},{"w":52,"v":208.2,"s":"c"},
        {"w":42,"v":31.9,"s":"p"},{"w":43,"v":45.6,"s":"p"},{"w":44,"v":29.8,"s":"p"},{"w":45,"v":52.5,"s":"p"},{"w":46,"v":64.1,"s":"p"},{"w":47,"v":86.8,"s":"p"},{"w":48,"v":98.4,"s":"p"},{"w":49,"v":114.2,"s":"p"},{"w":50,"v":136.8,"s":"p"},{"w":51,"v":150.6,"s":"p"},{"w":52,"v":274,"s":"p"},{"w":53,"v":258.3,"s":"p"},{"w":54,"v":366,"s":"p"},{"w":55,"v":440,"s":"p"},
        {"w":40,"v":219,"s":"t"},{"w":55,"v":219,"s":"t"}
      ]},
      "resolve": {"axis": {"x": "independent"}},
      "layer": [
        {"transform": [{"filter": "datum.s == 'p'"}],
         "mark": {"type": "line", "color": "#c4c4c4", "strokeWidth": 1},
         "encoding": {
           "x": {"field": "w", "type": "quantitative", "scale": {"domain": [40, 54.5], "range": [616.7, 790.7], "nice": false, "zero": false, "clamp": true},
                 "axis": {"orient": "bottom", "offset": -496.8, "title": null, "values": [40,41,42,43,44,45,46,47,48,49,50,51,52,53,54], "labelExpr": "datum.value % 2 == 0 ? '' + (datum.value > 52 ? datum.value - 52 : datum.value) : ''", "domain": false, "grid": false, "tickSize": 9, "labelPadding": 5, "labelFontSize": 10, "labelOverlap": false, "labelFlush": false}},
           "y": {"field": "v", "type": "quantitative", "scale": {"domain": [-35, 429.9], "range": [67.7, 0], "nice": false, "zero": false, "clamp": true},
                 "axis": {"orient": "left", "offset": -616.7, "title": null, "grid": true, "labelOverlap": false, "values": [-35, 0, 80, 160, 240, 320, 400],
                          "labelExpr": "datum.value == -35 ? '0' : indexof([160, 320], datum.value) >= 0 ? datum.label : ''",
                          "tickOpacity": {"condition": {"test": "indexof([-35, 160, 320], datum.value) >= 0", "value": 1}, "value": 0},
                          "gridColor": {"condition": {"test": "datum.value == -35", "value": "#000000"}, "value": "#e0e0e0"},
                          "gridDash": {"condition": {"test": "datum.value == -35", "value": [1, 0]}, "value": [4, 3]}}}}},
        {"transform": [{"filter": "datum.s == 'p' && datum.w < 55"}],
         "mark": {"type": "point", "shape": "square", "filled": false, "color": "#b8b8b8", "size": 30, "strokeWidth": 1.2, "opacity": 1},
         "encoding": {
           "x": {"field": "w", "type": "quantitative",
                 "axis": {"orient": "top", "offset": 0, "title": "Italy", "titleX": 661.3, "titleY": 15, "values": [40,41,42,43,44,45,46,47,48,49,50,51,52,53,54], "grid": true, "ticks": false, "labels": false, "domain": false}},
           "y": {"field": "v", "type": "quantitative"}}},
        {"transform": [{"filter": "datum.s == 'c'"}],
         "mark": {"type": "line", "color": "#ff0000", "strokeWidth": 1},
         "encoding": {"x": {"field": "w", "type": "quantitative", "axis": null}, "y": {"field": "v", "type": "quantitative"}}},
        {"transform": [{"filter": "datum.s == 'c'"}],
         "mark": {"type": "point", "shape": "square", "filled": false, "color": "#ff0000", "size": 30, "strokeWidth": 1.2, "opacity": 1},
         "encoding": {"x": {"field": "w", "type": "quantitative", "axis": null}, "y": {"field": "v", "type": "quantitative"}}},
        {"transform": [{"filter": "datum.s == 't'"}],
         "mark": {"type": "line", "color": "#009900", "strokeWidth": 2.5, "strokeDash": [3, 3]},
         "encoding": {"x": {"field": "w", "type": "quantitative", "axis": null}, "y": {"field": "v", "type": "quantitative"}}}
      ]
    },
    {
      "data": {"values": [
        {"w":40,"v":28.6,"s":"c"},{"w":41,"v":32.1,"s":"c"},{"w":42,"v":33.4,"s":"c"},{"w":43,"v":30.2,"s":"c"},{"w":44,"v":43.8,"s":"c"},{"w":45,"v":27,"s":"c"},{"w":46,"v":36.7,"s":"c"},{"w":47,"v":27.6,"s":"c"},{"w":48,"v":30.8,"s":"c"},{"w":49,"v":31.5,"s":"c"},{"w":50,"v":39.9,"s":"c"},{"w":51,"v":50.9,"s":"c"},{"w":52,"v":61.5,"s":"c"},
        {"w":40,"v":21.8,"s":"p"},{"w":41,"v":29.3,"s":"p"},{"w":42,"v":17.9,"s":"p"},{"w":43,"v":19.4,"s":"p"},{"w":44,"v":23.9,"s":"p"},{"w":45,"v":29.5,"s":"p"},{"w":46,"v":27.6,"s":"p"},{"w":47,"v":40.6,"s":"p"},{"w":48,"v":35.6,"s":"p"},{"w":49,"v":20,"s":"p"},{"w":50,"v":19.4,"s":"p"},{"w":51,"v":37.7,"s":"p"},{"w":52,"v":25,"s":"p"},{"w":53,"v":29.5,"s":"p"},{"w":54,"v":30.8,"s":"p"},{"w":55,"v":32.5,"s":"p"},
        {"w":40,"v":50,"s":"t"},{"w":55,"v":50,"s":"t"}
      ]},
      "resolve": {"axis": {"x": "independent"}},
      "layer": [
        {"transform": [{"filter": "datum.s == 'p'"}],
         "mark": {"type": "line", "color": "#c4c4c4", "strokeWidth": 1},
         "encoding": {
           "x": {"field": "w", "type": "quantitative", "scale": {"domain": [40, 55], "range": [618.3, 798.3], "nice": false, "zero": false, "clamp": true},
                 "axis": {"orient": "bottom", "offset": -363.5, "title": null, "values": [40,41,42,43,44,45,46,47,48,49,50,51,52,53,54], "labelExpr": "datum.value % 2 == 0 ? '' + (datum.value > 52 ? datum.value - 52 : datum.value) : ''", "domain": false, "grid": false, "tickSize": 9, "labelPadding": 5, "labelFontSize": 10, "labelOverlap": false, "labelFlush": false}},
           "y": {"field": "v", "type": "quantitative", "scale": {"domain": [-3.35, 67.5], "range": [201, 91.7], "nice": false, "zero": false, "clamp": true},
                 "axis": {"orient": "left", "offset": -618.3, "title": null, "grid": true, "labelOverlap": false, "values": [-3.35, 0, 7.5, 15, 22.5, 30, 37.5, 45, 52.5, 60],
                          "labelExpr": "datum.value == -3.35 ? '0' : indexof([15, 30, 45, 60], datum.value) >= 0 ? datum.label : ''",
                          "tickOpacity": {"condition": {"test": "indexof([-3.35, 15, 30, 45, 60], datum.value) >= 0", "value": 1}, "value": 0},
                          "gridColor": {"condition": {"test": "datum.value == -3.35", "value": "#000000"}, "value": "#e0e0e0"},
                          "gridDash": {"condition": {"test": "datum.value == -3.35", "value": [1, 0]}, "value": [4, 3]}}}}},
        {"transform": [{"filter": "datum.s == 'p' && datum.w < 55"}],
         "mark": {"type": "point", "shape": "square", "filled": false, "color": "#b8b8b8", "size": 30, "strokeWidth": 1.2, "opacity": 1},
         "encoding": {
           "x": {"field": "w", "type": "quantitative",
                 "axis": {"orient": "top", "offset": 0, "title": "Netherlands", "titleX": 700.8, "titleY": 183.3, "values": [40,41,42,43,44,45,46,47,48,49,50,51,52,53,54], "grid": true, "ticks": false, "labels": false, "domain": false}},
           "y": {"field": "v", "type": "quantitative"}}},
        {"transform": [{"filter": "datum.s == 'c'"}],
         "mark": {"type": "line", "color": "#ff0000", "strokeWidth": 1},
         "encoding": {"x": {"field": "w", "type": "quantitative", "axis": null}, "y": {"field": "v", "type": "quantitative"}}},
        {"transform": [{"filter": "datum.s == 'c'"}],
         "mark": {"type": "point", "shape": "square", "filled": false, "color": "#ff0000", "size": 30, "strokeWidth": 1.2, "opacity": 1},
         "encoding": {"x": {"field": "w", "type": "quantitative", "axis": null}, "y": {"field": "v", "type": "quantitative"}}},
        {"transform": [{"filter": "datum.s == 't'"}],
         "mark": {"type": "line", "color": "#009900", "strokeWidth": 2.5, "strokeDash": [3, 3]},
         "encoding": {"x": {"field": "w", "type": "quantitative", "axis": null}, "y": {"field": "v", "type": "quantitative"}}}
      ]
    },
    {
      "data": {"values": [
        {"w":40,"v":7.8,"s":"c"},{"w":41,"v":14.5,"s":"c"},{"w":42,"v":11,"s":"c"},{"w":43,"v":12.8,"s":"c"},{"w":44,"v":9.6,"s":"c"},{"w":45,"v":8.7,"s":"c"},{"w":46,"v":8.7,"s":"c"},{"w":47,"v":9.6,"s":"c"},{"w":48,"v":11,"s":"c"},{"w":49,"v":14.1,"s":"c"},{"w":50,"v":14.1,"s":"c"},{"w":51,"v":24.9,"s":"c"},{"w":52,"v":43.1,"s":"c"},
        {"w":40,"v":13.7,"s":"p"},{"w":41,"v":17.5,"s":"p"},{"w":42,"v":16.7,"s":"p"},{"w":43,"v":13.1,"s":"p"},{"w":44,"v":13.1,"s":"p"},{"w":45,"v":20.5,"s":"p"},{"w":46,"v":19.2,"s":"p"},{"w":47,"v":20.4,"s":"p"},{"w":48,"v":10.4,"s":"p"},{"w":49,"v":8.2,"s":"p"},{"w":50,"v":17.5,"s":"p"},{"w":51,"v":15.7,"s":"p"},{"w":52,"v":19.8,"s":"p"},{"w":53,"v":18.9,"s":"p"},{"w":54,"v":24.9,"s":"p"},{"w":55,"v":19,"s":"p"}
      ]},
      "resolve": {"axis": {"x": "independent"}},
      "layer": [
        {"transform": [{"filter": "datum.s == 'p'"}],
         "mark": {"type": "line", "color": "#c4c4c4", "strokeWidth": 1},
         "encoding": {
           "x": {"field": "w", "type": "quantitative", "scale": {"domain": [40, 54.6], "range": [628.3, 803.5], "nice": false, "zero": false, "clamp": true},
                 "axis": {"orient": "bottom", "offset": -199.5, "title": null, "values": [40,41,42,43,44,45,46,47,48,49,50,51,52,53,54], "labelExpr": "datum.value % 2 == 0 ? '' + (datum.value > 52 ? datum.value - 52 : datum.value) : ''", "domain": false, "grid": false, "tickSize": 9, "labelPadding": 5, "labelFontSize": 10, "labelOverlap": false, "labelFlush": false}},
           "y": {"field": "v", "type": "quantitative", "scale": {"domain": [-1.57, 46], "range": [365, 230], "nice": false, "zero": false, "clamp": true},
                 "axis": {"orient": "left", "offset": -628.3, "title": null, "grid": true, "labelOverlap": false, "values": [-1.57, 0, 4.1, 8.2, 12.3, 16.4, 20.5, 24.6, 28.7, 32.8, 36.9, 41, 45.1],
                          "labelExpr": "datum.value == -1.57 ? '0' : datum.value == 8.2 ? '8' : datum.value == 16.4 ? '16' : datum.value == 24.6 ? '25' : datum.value == 32.8 ? '33' : datum.value == 41 ? '41' : ''",
                          "tickOpacity": {"condition": {"test": "indexof([-1.57, 8.2, 16.4, 24.6, 32.8, 41], datum.value) >= 0", "value": 1}, "value": 0},
                          "gridColor": {"condition": {"test": "datum.value == -1.57", "value": "#000000"}, "value": "#e0e0e0"},
                          "gridDash": {"condition": {"test": "datum.value == -1.57", "value": [1, 0]}, "value": [4, 3]}}}}},
        {"transform": [{"filter": "datum.s == 'p' && datum.w < 55"}],
         "mark": {"type": "point", "shape": "square", "filled": false, "color": "#b8b8b8", "size": 30, "strokeWidth": 1.2, "opacity": 1},
         "encoding": {
           "x": {"field": "w", "type": "quantitative",
                 "axis": {"orient": "top", "offset": 0, "title": "Northern Ireland", "titleX": 716, "titleY": 349.3, "values": [40,41,42,43,44,45,46,47,48,49,50,51,52,53,54], "grid": true, "ticks": false, "labels": false, "domain": false}},
           "y": {"field": "v", "type": "quantitative"}}},
        {"transform": [{"filter": "datum.s == 'c'"}],
         "mark": {"type": "line", "color": "#ff0000", "strokeWidth": 1},
         "encoding": {"x": {"field": "w", "type": "quantitative", "axis": null}, "y": {"field": "v", "type": "quantitative"}}},
        {"transform": [{"filter": "datum.s == 'c'"}],
         "mark": {"type": "point", "shape": "square", "filled": false, "color": "#ff0000", "size": 30, "strokeWidth": 1.2, "opacity": 1},
         "encoding": {"x": {"field": "w", "type": "quantitative", "axis": null}, "y": {"field": "v", "type": "quantitative"}}}
      ]
    }
  ],
  "config": {
    "view": {"stroke": null},
    "axis": {"labelFont": "DejaVu Sans Mono", "labelFontSize": 9.5, "labelColor": "#000000", "tickColor": "#000000", "domainColor": "#000000",
             "gridColor": "#e0e0e0", "gridDash": [4, 3], "labelFlush": false, "labelOverlap": false, "tickWidth": 1, "domainWidth": 1, "tickSize": 6, "labelPadding": 1,
             "titleFont": "DejaVu Sans Mono", "titleFontSize": 13, "titleFontWeight": "normal", "titleColor": "#000000", "titleAngle": 0, "titleAlign": "center", "titleBaseline": "middle"}
  }
}
